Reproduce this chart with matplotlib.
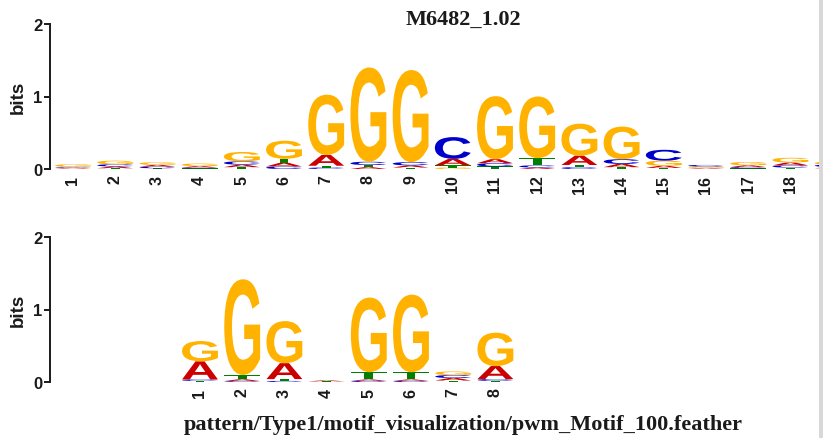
import numpy as np
import matplotlib
matplotlib.use("Agg")
import matplotlib.pyplot as plt
from matplotlib.textpath import TextPath
from matplotlib.patches import PathPatch, Rectangle
from matplotlib.path import Path
from matplotlib.font_manager import FontProperties

# ---- data: information content (bits) per letter and position ----
top_title = "M6482_1.02"
top_positions = list(range(1, 20))
top_labelled = list(range(1, 19))
top_A = [0.012, 0.025, 0.025, 0.020, 0.035, 0.050, 0.150, 0.025, 0.030, 0.090,
         0.055, 0.020, 0.130, 0.045, 0.030, 0.012, 0.025, 0.040, 0.020]
top_C = [0.012, 0.030, 0.022, 0.012, 0.045, 0.035, 0.020, 0.045, 0.045, 0.300,
         0.045, 0.030, 0.025, 0.065, 0.150, 0.022, 0.018, 0.030, 0.030]
top_G = [0.035, 0.050, 0.035, 0.035, 0.130, 0.250, 0.830, 1.300, 1.270, 0.020,
         0.870, 0.850, 0.440, 0.450, 0.070, 0.018, 0.045, 0.065, 0.040]
top_T = [0.006, 0.010, 0.010, 0.008, 0.025, 0.055, 0.025, 0.030, 0.020, 0.030,
         0.035, 0.100, 0.030, 0.025, 0.015, 0.004, 0.008, 0.020, 0.010]

bottom_title = "pattern/Type1/motif_visualization/pwm_Motif_100.feather"
bottom_positions = list(range(1, 9))
bot_A = [0.250, 0.025, 0.220, 0.012, 0.020, 0.020, 0.035, 0.180]
bot_C = [0.020, 0.012, 0.015, 0.002, 0.015, 0.015, 0.040, 0.025]
bot_G = [0.280, 1.320, 0.580, 0.003, 1.030, 1.070, 0.050, 0.460]
bot_T = [0.015, 0.060, 0.025, 0.005, 0.100, 0.100, 0.020, 0.015]

y_ticks = [0, 1, 2]

letter_colors = {"A": "#CC0000", "C": "#0000CC", "G": "#FFB300", "T": "#008000"}
text_color = "#1a1a1a"

# ---- glyph outlines normalised to the unit square ----
glyph_font = FontProperties(family="Liberation Sans", weight="bold")
glyphs = {}
for ch in "ACGT":
    tp = TextPath((0, 0), ch, size=1, prop=glyph_font)
    ext = tp.get_extents()
    v = tp.vertices.copy()
    v[:, 0] = (v[:, 0] - ext.x0) / ext.width
    v[:, 1] = (v[:, 1] - ext.y0) / ext.height
    glyphs[ch] = (v, tp.codes)


def draw_logo(ax, positions, heights, width=0.85):
    for i, pos in enumerate(positions):
        col = sorted(((heights[ch][i], ch) for ch in "ACGT"))
        base = 0.0
        for h, ch in col:
            if h <= 0:
                continue
            v, codes = glyphs[ch]
            verts = v * np.array([width, h]) + np.array([pos - width / 2, base])
            ax.add_patch(PathPatch(Path(verts, codes), facecolor=letter_colors[ch],
                                   edgecolor="none", lw=0))
            base += h


def style_axis(ax, labelled):
    for s in ("top", "right", "bottom"):
        ax.spines[s].set_visible(False)
    ax.spines["left"].set_bounds(0, 2)
    ax.spines["left"].set_linewidth(1.4)
    ax.spines["left"].set_color(text_color)
    ax.set_ylim(0, 2)
    ax.set_yticks(y_ticks)
    ax.set_yticklabels([str(t) for t in y_ticks], fontsize=12,
                       fontweight="bold", family="Liberation Sans", color=text_color)
    ax.tick_params(axis="y", length=4, width=1.4, pad=1.5, color=text_color)
    ax.set_xticks(labelled)
    ax.set_xticklabels([str(p) for p in labelled], rotation=90, fontsize=11.5,
                       fontweight="bold", family="Liberation Sans", color=text_color)
    ax.tick_params(axis="x", length=0, pad=4)
    ax.set_ylabel("bits", fontsize=13.5, fontweight="bold", family="Liberation Sans",
                  color=text_color)
    ax.patch.set_alpha(0)


W, H = 825, 439
fig = plt.figure(figsize=(W / 100, H / 100), dpi=100)
col_px = 42.2
spine_x = 50
label_right_px = 27

# top logo
top_x0 = 1 - (73 - spine_x) / col_px
top_x1 = 20.5
ax1 = fig.add_axes([spine_x / W, (H - 170) / H, (top_x1 - top_x0) * col_px / W, 145 / H])
ax1.set_xlim(top_x0, top_x1)
draw_logo(ax1, top_positions, {"A": top_A, "C": top_C, "G": top_G, "T": top_T})
style_axis(ax1, top_labelled)
ax1.yaxis.set_label_coords(-(spine_x - label_right_px) / ((top_x1 - top_x0) * col_px), 0.5)

# bottom logo
bot_x0 = 1 - (200 - spine_x) / col_px
bot_x1 = 8.6
ax2 = fig.add_axes([spine_x / W, (H - 383) / H, (bot_x1 - bot_x0) * col_px / W, 145 / H])
ax2.set_xlim(bot_x0, bot_x1)
draw_logo(ax2, bottom_positions, {"A": bot_A, "C": bot_C, "G": bot_G, "T": bot_T})
style_axis(ax2, bottom_positions)
ax2.yaxis.set_label_coords(-(spine_x - label_right_px) / ((bot_x1 - bot_x0) * col_px), 0.5)

fig.text(463 / W, 1 - 25 / H, top_title, ha="center", va="baseline",
         family="Liberation Serif", fontweight="bold", fontsize=16, color=text_color)
fig.text(463.5 / W, 1 - 430 / H, bottom_title, ha="center", va="baseline",
         family="Liberation Serif", fontweight="bold", fontsize=16, color=text_color)

# right-hand frame edge
fig.add_artist(Rectangle((819 / W, 0), 4 / W, 1, transform=fig.transFigure,
                         facecolor="#d8d8d8", edgecolor="none", zorder=10))
fig.add_artist(Rectangle((823 / W, 0), 2 / W, 1, transform=fig.transFigure,
                         facecolor="white", edgecolor="none", zorder=10))

fig.savefig("out.png", dpi=100)
